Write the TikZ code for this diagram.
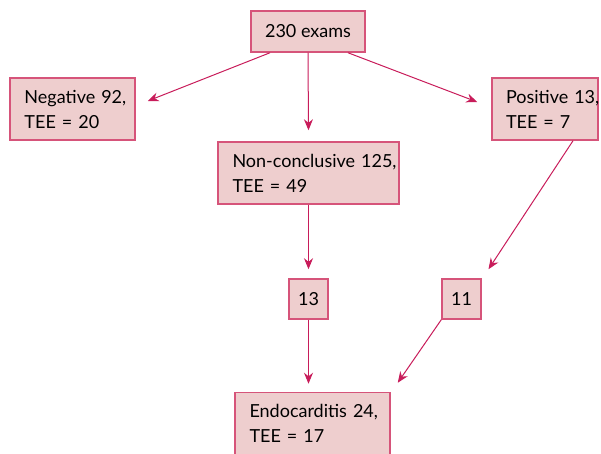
\documentclass[tikz,border=0pt]{standalone}
\usepackage{fontspec}
\setmainfont{Lato}
\usetikzlibrary{calc,arrows.meta}
\definecolor{boxfill}{RGB}{238,206,206}
\definecolor{boxline}{RGB}{214,84,122}
\definecolor{arrline}{RGB}{200,28,90}
\begin{document}
\begin{tikzpicture}[x=0.5pt,y=-0.5pt,font=\fontsize{9}{12.5}\selectfont,box/.style={shape=rectangle,draw=boxline,fill=boxfill,line width=0.75pt,inner xsep=7pt,align=left,anchor=center},boxW/.style={box,minimum height=31pt},boxS/.style={box,minimum width=19.5pt,minimum height=20pt,inner xsep=0pt,align=center},arr/.style={draw=arrline,line width=0.5pt,-{Stealth[length=5.5pt,width=4.5pt]}}]
\useasboundingbox (0,0) rectangle (601,454);

\node[box,minimum width=55pt,minimum height=20.5pt,align=center] (exams) at (308,31.5) {230 exams};

\node[boxW,minimum width=62.5pt,text width=48pt] (neg) at (72.5,109) {\mbox{Negative 92,}\\TEE = 20};
\draw[arr] ($(exams.south)+(-38,0)$) -- ($(neg.east)+(12,-8)$);
\node[boxW,minimum width=53pt,text width=39pt] (pos) at (545,109) {\mbox{Positive 13,}\\TEE = 7};
\draw[arr] ($(exams.south)+(40,0)$) -- ($(pos.west)+(-14,-7)$);
\node[boxW,minimum width=90.5pt,text width=76pt] (non) at (308.5,173) {\mbox{Non-conclusive 125,}\\TEE = 49};
\draw[arr] (exams.south) -- ($(non.north)+(0,-11)$);

\node[boxS] (n13) at (308.5,299) {13};
\draw[arr] (non.south) -- ($(n13.north)+(0,-9)$);
\node[boxS] (n11) at (461.5,299) {11};
\draw[arr] ($(pos.south)+(28,0)$) -- ($(n11.north)+(27,-9)$);

\node[boxW,minimum width=77.5pt,text width=63pt] (endo) at (312.5,423.5) {\mbox{Endocarditis 24,}\\TEE = 17};
\draw[arr] (n13.south) -- ($(endo.north)+(-4,-8)$);
\draw[arr] (n11.south west) -- ($(endo.north east)+(7,-9)$);
\end{tikzpicture}
\end{document}
